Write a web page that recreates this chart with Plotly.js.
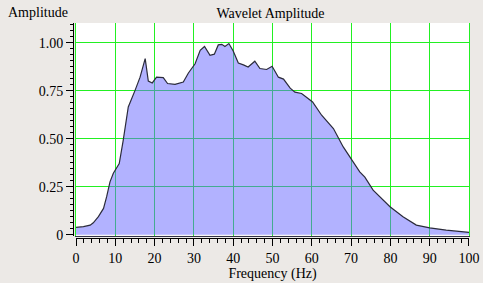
<!DOCTYPE html>
<html>
<head>
<meta charset="utf-8">
<script src="https://cdn.plot.ly/plotly-3.0.1.min.js"></script>
<style>html,body{margin:0;padding:0;background:#ECE9E6;}#chart{width:483px;height:283px;}</style>
</head>
<body>
<div id="chart"></div>
<script>
const freqHz = [0, 1.9, 3.6, 4.4, 5.7, 7.0, 7.8, 8.65, 9.5, 10.35, 11.0, 12.0, 13.3, 15.0, 16.3, 17.6, 18.4, 19.4, 20.5, 22.2, 23.3, 25.2, 27.3, 28.6, 30.3, 31.6, 32.7, 34.1, 35.2, 36.2, 37.1, 37.9, 38.9, 40.0, 41.3, 42.6, 43.8, 45.5, 46.8, 48.5, 49.9, 51.5, 52.8, 54.5, 55.7, 57.4, 60.2, 62.5, 65.5, 68.0, 70.2, 72.2, 73.5, 75.6, 79.9, 83.2, 86.6, 90.0, 94.2, 100];
const amplitude = [0.038, 0.042, 0.05, 0.062, 0.094, 0.137, 0.198, 0.275, 0.32, 0.35, 0.37, 0.49, 0.665, 0.75, 0.82, 0.917, 0.80, 0.79, 0.82, 0.818, 0.787, 0.783, 0.795, 0.842, 0.89, 0.96, 0.98, 0.934, 0.94, 0.988, 0.991, 0.98, 0.995, 0.956, 0.894, 0.884, 0.873, 0.903, 0.865, 0.86, 0.877, 0.82, 0.81, 0.763, 0.742, 0.735, 0.691, 0.622, 0.553, 0.457, 0.388, 0.327, 0.30, 0.232, 0.146, 0.094, 0.05, 0.036, 0.024, 0.012];
const yTickLabelAlias = {'0.00': '0'};

const serif = 'Liberation Serif, Times New Roman, serif';
const yRange = [-0.004, 1.102];
const xRange = [0, 100];

const traces = [
  {
    x: freqHz, y: amplitude, type: 'scatter', mode: 'lines',
    fill: 'tozeroy', fillcolor: 'rgba(102,102,255,0.5)',
    line: {color: '#2b2b3b', width: 1.2},
    xaxis: 'x', yaxis: 'y', hoverinfo: 'skip', showlegend: false
  },
  {
    x: [null], y: [null], type: 'scatter', mode: 'lines',
    xaxis: 'x2', yaxis: 'y2', hoverinfo: 'skip', showlegend: false
  }
];

const layout = {
  width: 483, height: 283,
  margin: {l: 73, r: 14, t: 23, b: 45, pad: 0},
  paper_bgcolor: '#ECE9E6', plot_bgcolor: '#FFFFFF',
  font: {family: serif, size: 14, color: '#000'},
  showlegend: false,
  title: {text: 'Wavelet Amplitude', font: {family: serif, size: 14, color: '#000'},
          x: 0.56, xanchor: 'center', y: 0.955, yanchor: 'middle', yref: 'container'},
  xaxis: {
    domain: [0.0076, 1], range: xRange, anchor: 'y',
    tickmode: 'linear', tick0: 0, dtick: 10, showticklabels: false, ticks: '',
    showgrid: true, gridcolor: '#22F022', gridwidth: 1,
    zeroline: false, showline: true, linecolor: '#33334a', linewidth: 1
  },
  yaxis: {
    domain: [0.0116, 1], range: yRange, anchor: 'x',
    tickvals: [0.25, 0.5, 0.75, 1.0], showticklabels: false, ticks: '',
    showgrid: true, gridcolor: '#22F022', gridwidth: 1,
    zeroline: false, showline: true, linecolor: '#22F022', linewidth: 1, mirror: true
  },
  xaxis2: {
    overlaying: 'x', anchor: 'free', position: 0, side: 'bottom', range: xRange,
    tickmode: 'linear', tick0: 0, dtick: 10, ticks: 'outside', ticklen: 7, tickwidth: 1, tickcolor: '#000',
    minor: {tickmode: 'linear', dtick: 2, tick0: 0, ticks: 'outside', ticklen: 4, tickwidth: 1, tickcolor: '#000', showgrid: false},
    showgrid: false, zeroline: false, showline: true, linecolor: '#000', linewidth: 1,
    tickfont: {family: serif, size: 14, color: '#000'},
    title: {text: 'Frequency (Hz)', font: {family: serif, size: 14, color: '#000'}, standoff: 3}
  },
  yaxis2: {
    overlaying: 'y', anchor: 'free', position: 0, side: 'left', range: yRange,
    tickmode: 'linear', tick0: 0, dtick: 0.25, tickformat: '.2f', labelalias: yTickLabelAlias,
    ticks: 'outside', ticklen: 7, tickwidth: 1, tickcolor: '#000',
    minor: {tickmode: 'linear', dtick: 0.03125, tick0: 0, ticks: 'outside', ticklen: 3, tickwidth: 1, tickcolor: '#000', showgrid: false},
    showgrid: false, zeroline: false, showline: true, linecolor: '#000', linewidth: 1,
    tickfont: {family: serif, size: 14, color: '#000'}
  },
  annotations: [
    {text: 'Amplitude', xref: 'paper', yref: 'paper', x: -0.169, y: 1.047,
     xanchor: 'left', yanchor: 'middle', showarrow: false,
     font: {family: serif, size: 14, color: '#000'}}
  ]
};

Plotly.newPlot('chart', traces, layout, {staticPlot: true, displayModeBar: false});
</script>
</body>
</html>
